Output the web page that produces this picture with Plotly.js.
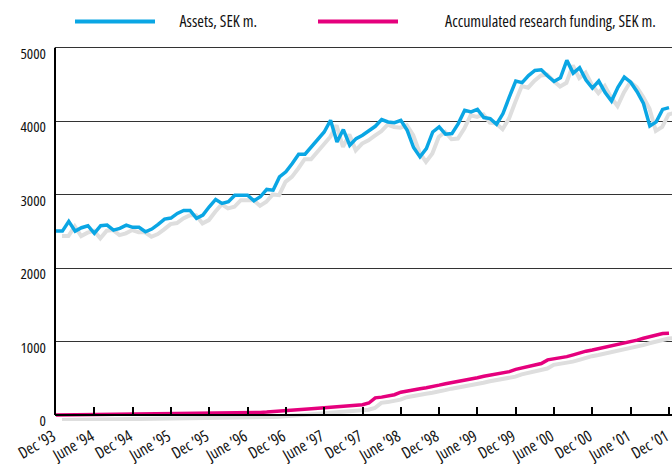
<!DOCTYPE html>
<html>
<head>
<meta charset="utf-8">
<script src="https://cdn.plot.ly/plotly-3.0.1.min.js"></script>
<style>
html,body{margin:0;padding:0;background:#fff;}
#chart{width:672px;height:468px;}
#chart svg text{font-stretch:75% !important;}
</style>
</head>
<body>
<div id="chart"></div>
<script>
// ---- data (monthly, Dec '93 .. Dec '01) ----
const tickLabels = ["Dec \u201993","June \u201994","Dec \u201994","June \u201995","Dec \u201995","June \u201996","Dec \u201996","June \u201997","Dec \u201997","June \u201998","Dec \u201998","June \u201999","Dec \u201999","June \u201900","Dec \u201900","June \u201901","Dec \u201901"];
const assets = [2504,2504,2636,2504,2550,2577,2473,2577,2586,2518,2541,2586,
  2555,2555,2495,2532,2595,2667,2681,2745,2786,2786,2677,2722,
  2835,2935,2881,2903,2993,2993,2993,2916,2971,3071,3061,3242,
  3310,3424,3550,3550,3650,3740,3853,4012,3717,3886,3672,3763,
  3808,3870,3930,4021,3989,3980,4012,3876,3641,3514,3627,3853,
  3921,3822,3831,3967,4148,4125,4161,4049,4035,3958,4103,4330,
  4546,4524,4620,4690,4700,4615,4540,4590,4827,4654,4728,4560,
  4450,4546,4390,4274,4460,4600,4530,4400,4240,3935,3990,4160,
  4184];
const funding = [0,1,2,3,3,4,5,5,6,7,7,8,
  9,10,10,11,12,13,14,15,16,17,18,19,
  20,22,23,25,27,29,31,34,37,41,46,52,
  60,66,72,79,87,95,102,110,117,124,130,136,
  142,165,235,245,258,278,312,332,348,360,372,386,
  408,428,443,458,470,484,508,528,544,561,575,592,
  622,640,656,676,702,752,766,776,796,820,850,870,
  886,904,925,948,965,982,998,1020,1046,1070,1098,1110,
  1115];
const seriesNames = ["Assets, SEK m.", "Accumulated research funding, SEK m."];
const yTicks = [0,1000,2000,3000,4000,5000];

// ---- geometry / style ----
const W = 672, H = 468;
const months = assets.map((_, i) => i);
const tickVals = tickLabels.map((_, i) => i * 6);
const plotL = 55, plotR = 672;
const y0px = 415.4, y5000px = 47.3;
const pxPerUnit = (y0px - y5000px) / 5000;
const yRange = [-80, 5050];
const plotT = y5000px - (yRange[1] - 5000) * pxPerUnit;
const plotB = y0px + (0 - yRange[0]) * pxPerUnit;
const xRange = [-0.157, 96.47];
const pxPerMonth = (plotR - plotL) / (xRange[1] - xRange[0]);
const shDx = 6, shDy = 5;
const x2Range = [xRange[0] - shDx / pxPerMonth, xRange[1] - shDx / pxPerMonth];
const y2Range = [yRange[0] + shDy / pxPerUnit, yRange[1] + shDy / pxPerUnit];
const fx = px => (px - plotL) / (plotR - plotL);
const fy = py => (plotB - py) / (plotB - plotT);

const FONT = "Open Sans, Liberation Sans, sans-serif";
const BLUE = "#0aa6e4", PINK = "#e5007d", SHADOW = "#dedede", INK = "#111";

const traces = [
  {x: months, y: assets, xaxis: "x2", yaxis: "y2", mode: "lines", line: {color: SHADOW, width: 4}, showlegend: false, hoverinfo: "skip"},
  {x: months, y: funding, xaxis: "x2", yaxis: "y2", mode: "lines", line: {color: SHADOW, width: 4}, showlegend: false, hoverinfo: "skip"},
  {x: months, y: assets, xaxis: "x3", yaxis: "y3", mode: "lines", name: seriesNames[0], line: {color: BLUE, width: 3.5}, showlegend: false},
  {x: months, y: funding, xaxis: "x3", yaxis: "y3", mode: "lines", name: seriesNames[1], line: {color: PINK, width: 3.5}, showlegend: false}
];

const legY = 21;
const layout = {
  width: W, height: H,
  margin: {l: plotL, r: W - plotR, t: plotT, b: H - plotB, pad: 0},
  paper_bgcolor: "#fff", plot_bgcolor: "#fff",
  showlegend: false,
  font: {family: FONT, color: INK},
  xaxis: {
    range: xRange, tickmode: "array", tickvals: tickVals, ticktext: tickLabels,
    ticks: "inside", ticklen: 7, tickwidth: 2, tickcolor: "#000",
    showline: true, linewidth: 2, linecolor: "#000",
    anchor: "free", position: (0 - yRange[0]) / (yRange[1] - yRange[0]),
    tickangle: -30, tickfont: {family: FONT, size: 16, color: INK},
    ticklabelstandoff: 5, ticklabelshift: -3,
    ticklabeloverflow: "allow",
    showgrid: false, zeroline: false, fixedrange: true
  },
  yaxis: {
    range: yRange, tickmode: "array", tickvals: yTicks,
    ticks: "outside", ticklen: 5, tickcolor: "rgba(0,0,0,0)",
    ticklabelshift: 6,
    showgrid: true, gridcolor: "#333", gridwidth: 1,
    showline: false, zeroline: false,
    tickfont: {family: FONT, size: 15, color: INK}, fixedrange: true
  },
  xaxis2: {overlaying: "x", range: x2Range, visible: false, anchor: "y2"},
  yaxis2: {overlaying: "y", range: y2Range, visible: false, anchor: "x2"},
  xaxis3: {overlaying: "x", range: xRange, visible: false, anchor: "y3"},
  yaxis3: {overlaying: "y", range: yRange, visible: false, anchor: "x3"},
  shapes: [
    {type: "line", xref: "paper", yref: "y", x0: 0, x1: 0, y0: 0, y1: 5000, line: {color: "#000", width: 2}},
    {type: "line", xref: "paper", yref: "paper", x0: fx(75), x1: fx(155), y0: fy(legY), y1: fy(legY), line: {color: BLUE, width: 4}},
    {type: "line", xref: "paper", yref: "paper", x0: fx(318), x1: fx(398), y0: fy(legY), y1: fy(legY), line: {color: PINK, width: 4}}
  ],
  annotations: [
    {xref: "paper", yref: "paper", x: fx(163), y: fy(legY), xanchor: "left", yanchor: "middle", text: seriesNames[0], showarrow: false, font: {family: FONT, size: 16, color: INK}},
    {xref: "paper", yref: "paper", x: fx(405), y: fy(legY), xanchor: "left", yanchor: "middle", text: seriesNames[1], showarrow: false, font: {family: FONT, size: 16, color: INK}}
  ]
};

Plotly.newPlot("chart", traces, layout, {staticPlot: true, displayModeBar: false});
</script>
</body>
</html>
